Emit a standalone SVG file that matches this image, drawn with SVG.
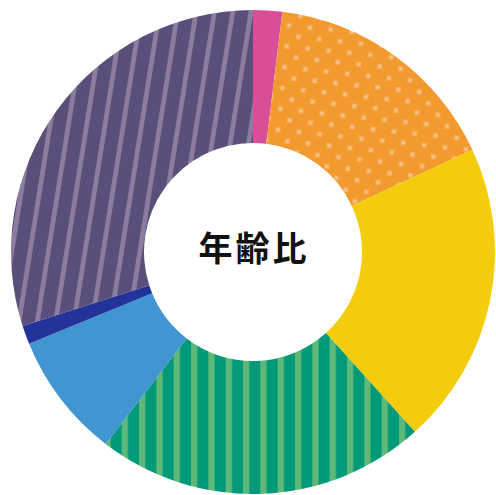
<svg xmlns="http://www.w3.org/2000/svg" width="496" height="495" viewBox="0 0 496 495">
<style>
.label{font-family:"Noto Sans CJK JP","Noto Sans CJK SC",sans-serif;font-weight:700;font-size:34px;fill:#111;letter-spacing:3px}
</style>
<defs>
<pattern id="dots" patternUnits="userSpaceOnUse" width="21" height="21" patternTransform="rotate(6) translate(4 3)">
<rect width="21" height="21" fill="#F29A2E"/>
<rect x="0" y="0" width="5" height="5" fill="#F6B266"/>
<rect x="1.5" y="1.5" width="2" height="2" fill="#F9CC98"/>
<rect x="10.5" y="10.5" width="5" height="5" fill="#F6B266"/>
<rect x="12" y="12" width="2" height="2" fill="#F9CC98"/>
</pattern>
<pattern id="vstripes" patternUnits="userSpaceOnUse" x="191" y="0" width="17.33" height="20">
<rect width="17.33" height="20" fill="#009A78"/>
<rect x="0" width="6.3" height="20" fill="#5DB87A"/>
</pattern>
<pattern id="dstripes" patternUnits="userSpaceOnUse" x="12.6" y="0" width="18.3" height="20" patternTransform="skewX(-9)">
<rect width="18.3" height="20" fill="#5A4E7B"/>
<rect x="0" width="4.8" height="20" fill="#8C7D9F"/>
</pattern>
</defs>
<g id="donut">
<g id="seg-pink"><path d="M253,10 A242,242 0 0 1 282.49,11.80 L266.28,143.81 A109,109 0 0 0 253,143 Z" fill="#D84F98"/></g>
<g id="seg-orange"><path d="M282.49,11.80 A242,242 0 0 1 472.33,149.73 L351.79,205.93 A109,109 0 0 0 266.28,143.81 Z" fill="url(#dots)"/></g>
<g id="seg-yellow"><path d="M472.33,149.73 A242,242 0 0 1 414.93,431.84 L325.94,333.00 A109,109 0 0 0 351.79,205.93 Z" fill="#F4CC0C"/></g>
<g id="seg-green"><path d="M414.93,431.84 A242,242 0 0 1 105.68,443.99 L186.65,338.48 A109,109 0 0 0 325.94,333.00 Z" fill="url(#vstripes)"/></g>
<g id="seg-blue"><path d="M105.68,443.99 A242,242 0 0 1 29.10,343.83 L152.15,293.36 A109,109 0 0 0 186.65,338.48 Z" fill="#4195D1"/></g>
<g id="seg-navy"><path d="M29.10,343.83 A242,242 0 0 1 22.58,325.98 L149.22,285.32 A109,109 0 0 0 152.15,293.36 Z" fill="#24339A"/></g>
<g id="seg-purple"><path d="M22.58,325.98 A242,242 0 0 1 253,10 L253,143 A109,109 0 0 0 149.22,285.32 Z" fill="url(#dstripes)"/></g>
</g>
<g id="center-label"><text class="label" x="254" y="261" text-anchor="middle">年齢比</text></g>
</svg>
